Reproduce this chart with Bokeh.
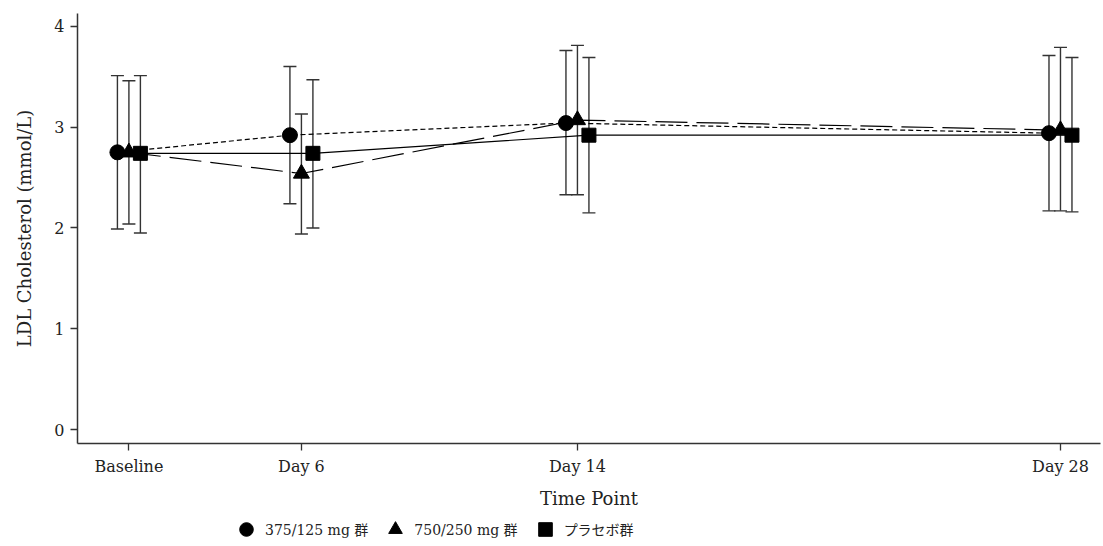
from bokeh.plotting import figure
from bokeh.layouts import column
from bokeh.models import (ColumnDataSource, Range1d, FixedTicker, Whisker, TeeHead,
                          Legend, LegendItem)
from bokeh.embed import file_html
from bokeh.resources import INLINE

# Visit schedule (study day of each visit) and its labels
time_labels = ["Baseline", "Day 6", "Day 14", "Day 28"]
study_days = [1, 6, 14, 28]

# Group names
groups = ["375/125 mg 群", "750/250 mg 群", "プラセボ群"]

# LDL cholesterol (mmol/L): mean with lower / upper error limits
mean_375 = [2.75, 2.92, 3.04, 2.94]
low_375 = [1.99, 2.24, 2.33, 2.17]
high_375 = [3.51, 3.60, 3.76, 3.71]

mean_750 = [2.75, 2.54, 3.07, 2.97]
low_750 = [2.04, 1.94, 2.33, 2.17]
high_750 = [3.46, 3.13, 3.81, 3.79]

mean_pbo = [2.74, 2.74, 2.92, 2.92]
low_pbo = [1.95, 2.00, 2.15, 2.16]
high_pbo = [3.51, 3.47, 3.69, 3.69]

SERIF = "'DejaVu Serif', 'Noto Sans CJK JP'"
AXIS_GREY = "#333333"
TEXT = "#222222"

p = figure(width=1103, height=512, output_backend="svg", toolbar_location=None,
           x_range=Range1d(-0.49, 29.16), y_range=Range1d(-0.136, 4.126),
           min_border_left=77, min_border_right=3, min_border_top=13,
           min_border_bottom=69)
p.outline_line_color = None
p.xgrid.visible = False
p.ygrid.visible = False
p.background_fill_color = "white"
p.border_fill_color = "white"

# (means, lows, highs, marker, marker size, line dash, horizontal dodge in days)
series = [
    (mean_375, low_375, high_375, "circle", 15, "5 3", -0.333),
    (mean_750, low_750, high_750, "triangle", 16, "32 9", 0.0),
    (mean_pbo, low_pbo, high_pbo, "square", 14, "solid", 0.333),
]

for means, lows, highs, marker, size, dash, dodge in series:
    src = ColumnDataSource(dict(
        x=[d + dodge for d in study_days], y=means, lower=lows, upper=highs))
    p.line("x", "y", source=src, line_color="black", line_width=1.2,
           line_dash=dash)
    p.add_layout(Whisker(
        base="x", lower="lower", upper="upper", source=src, dimension="height",
        line_color=AXIS_GREY, line_width=1.4,
        upper_head=TeeHead(size=13, line_color=AXIS_GREY, line_width=1.4),
        lower_head=TeeHead(size=13, line_color=AXIS_GREY, line_width=1.4)))
    p.scatter("x", "y", source=src, marker=marker, size=size,
              fill_color="black", line_color="black")

# Axes
p.xaxis.ticker = FixedTicker(ticks=study_days)
p.xaxis.major_label_overrides = {d: lab for d, lab in zip(study_days, time_labels)}
p.yaxis.ticker = FixedTicker(ticks=[0, 1, 2, 3, 4])
p.xaxis.axis_label = "Time Point"
p.yaxis.axis_label = "LDL Cholesterol (mmol/L)"
for ax in (p.xaxis, p.yaxis):
    ax.axis_line_color = AXIS_GREY
    ax.axis_line_width = 1.5
    ax.major_tick_line_color = AXIS_GREY
    ax.major_tick_line_width = 1.3
    ax.major_tick_out = 7
    ax.major_tick_in = 0
    ax.minor_tick_line_color = None
    ax.major_label_text_font = SERIF
    ax.major_label_text_font_size = "16px"
    ax.major_label_text_color = TEXT
    ax.axis_label_text_font = SERIF
    ax.axis_label_text_font_size = "18px"
    ax.axis_label_text_font_style = "normal"
    ax.axis_label_text_color = TEXT
p.xaxis.major_label_standoff = 6
p.xaxis.axis_label_standoff = 9
p.yaxis.major_label_standoff = 6
p.yaxis.axis_label_standoff = 16

# Key strip under the chart: marker-only entries for the three groups.
# Its ranges lie away from the data, so only the legend itself shows.
key = figure(width=1103, height=34, output_backend="svg", toolbar_location=None,
             x_axis_type=None, y_axis_type=None, min_border=0,
             x_range=Range1d(-2, -1), y_range=Range1d(-2, -1))
key.outline_line_color = None
key.xgrid.visible = False
key.ygrid.visible = False
items = []
for (means, _, _, marker, _, _, _), name in zip(series, groups):
    r = key.scatter(x=study_days, y=means, marker=marker, fill_color="black",
                    line_color="black")
    items.append(LegendItem(label=name, renderers=[r]))
legend = Legend(items=items, orientation="horizontal", location=(152, 0),
                border_line_color=None, background_fill_alpha=0,
                label_text_font=SERIF, label_text_font_size="14px",
                label_text_color=TEXT, glyph_width=34, glyph_height=34,
                spacing=10, padding=0, margin=0, label_standoff=2)
key.add_layout(legend, "center")

open("out.html", "w").write(file_html(column(p, key, spacing=0), INLINE))
